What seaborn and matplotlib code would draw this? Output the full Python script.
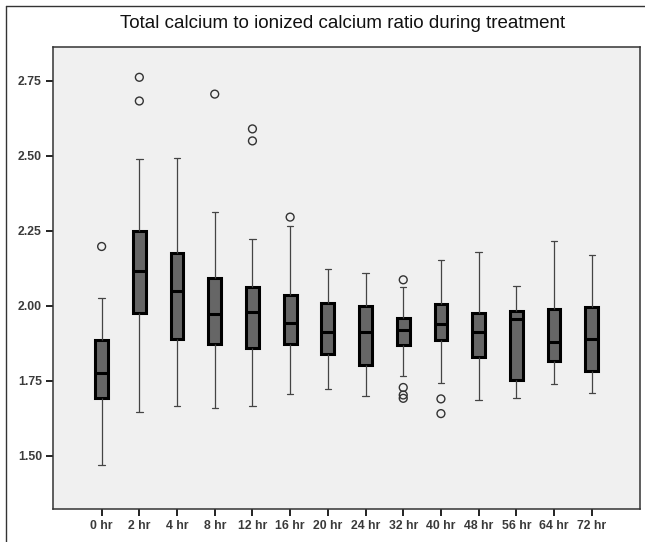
import numpy as np
import pandas as pd
import matplotlib
matplotlib.use("Agg")
import matplotlib.pyplot as plt
import seaborn as sns
from matplotlib.lines import Line2D

# ---- data ----
times = ["0 hr", "2 hr", "4 hr", "8 hr", "12 hr", "16 hr", "20 hr",
         "24 hr", "32 hr", "40 hr", "48 hr", "56 hr", "64 hr", "72 hr"]
whisker_low = [1.469, 1.647, 1.666, 1.659, 1.668, 1.708, 1.722,
               1.701, 1.767, 1.742, 1.688, 1.694, 1.741, 1.709]
q1 = [1.694, 1.978, 1.890, 1.872, 1.860, 1.873, 1.839,
      1.803, 1.870, 1.888, 1.831, 1.752, 1.817, 1.782]
median = [1.776, 2.116, 2.050, 1.973, 1.981, 1.942, 1.912,
          1.914, 1.920, 1.940, 1.914, 1.957, 1.879, 1.891]
q3 = [1.887, 2.250, 2.176, 2.094, 2.064, 2.037, 2.011,
      2.001, 1.959, 2.007, 1.976, 1.983, 1.989, 1.996]
whisker_high = [2.028, 2.489, 2.493, 2.312, 2.223, 2.265, 2.124,
                2.111, 2.063, 2.153, 2.179, 2.066, 2.217, 2.170]
outlier_time = ["0 hr", "2 hr", "2 hr", "8 hr", "12 hr", "12 hr", "16 hr",
                "32 hr", "32 hr", "32 hr", "32 hr", "40 hr", "40 hr"]
outlier_value = [2.198, 2.762, 2.683, 2.706, 2.590, 2.550, 2.296,
                 2.087, 1.728, 1.703, 1.692, 1.690, 1.641]
title = "Total calcium to ionized calcium ratio during treatment"
yticks = [1.50, 1.75, 2.00, 2.25, 2.50, 2.75]

# ---- build long-form table from summaries ----
rows = []
for i, t in enumerate(times):
    for v in (whisker_low[i], q1[i], median[i], q3[i], whisker_high[i]):
        rows.append({"time": t, "ratio": v})
df = pd.DataFrame(rows)
df_out = pd.DataFrame({"time": outlier_time, "ratio": outlier_value})

sns.set_theme(style="ticks")
plt.rcParams["font.family"] = ["Liberation Sans", "DejaVu Sans"]

fig = plt.figure(figsize=(6.45, 5.42), dpi=100)
ax = fig.add_axes([53 / 645, 1 - 509 / 542, (640 - 53) / 645, (509 - 47) / 542])
ax.set_facecolor("#f0f0f0")

sns.boxplot(data=df, x="time", y="ratio", order=times, ax=ax,
            whis=(0, 100), showfliers=False, width=0.34,
            color="#666666", linecolor="black", linewidth=2.2,
            whiskerprops=dict(color="#444444", linewidth=0.9),
            capprops=dict(color="#444444", linewidth=0.9),
            medianprops=dict(color="black", linewidth=2.2),
            capwidths=0.17)

sns.scatterplot(data=df_out, x="time", y="ratio", ax=ax,
                marker="o", s=32, facecolor="none", edgecolor="#333333",
                linewidth=1.0, zorder=5)

ax.set_xlim(-1.29, 14.28)
ax.set_ylim(1.323, 2.863)
ax.set_yticks(yticks)
ax.set_yticklabels([f"{v:.2f}" for v in yticks])
ax.set_xlabel("")
ax.set_ylabel("")
for s in ax.spines.values():
    s.set_color("#333333")
    s.set_linewidth(1.1)
ax.tick_params(axis="both", colors="#222222", labelcolor="#3a3a3a",
               length=5, width=1.4, labelsize=8.8, direction="out", pad=3)
for lab in ax.get_xticklabels() + ax.get_yticklabels():
    lab.set_fontweight("bold")

fig.text(343 / 645, 1 - 23 / 542, title, ha="center", va="center",
         fontsize=13.5, color="#111111")

# figure frame lines (left and top)
fig.add_artist(Line2D([6 / 645, 6 / 645], [0, 1 - 6 / 542], transform=fig.transFigure,
                      color="#333333", linewidth=1.0))
fig.add_artist(Line2D([6 / 645, 1], [1 - 6 / 542, 1 - 6 / 542], transform=fig.transFigure,
                      color="#333333", linewidth=1.0))

fig.savefig("out.png", dpi=100, facecolor="white")
